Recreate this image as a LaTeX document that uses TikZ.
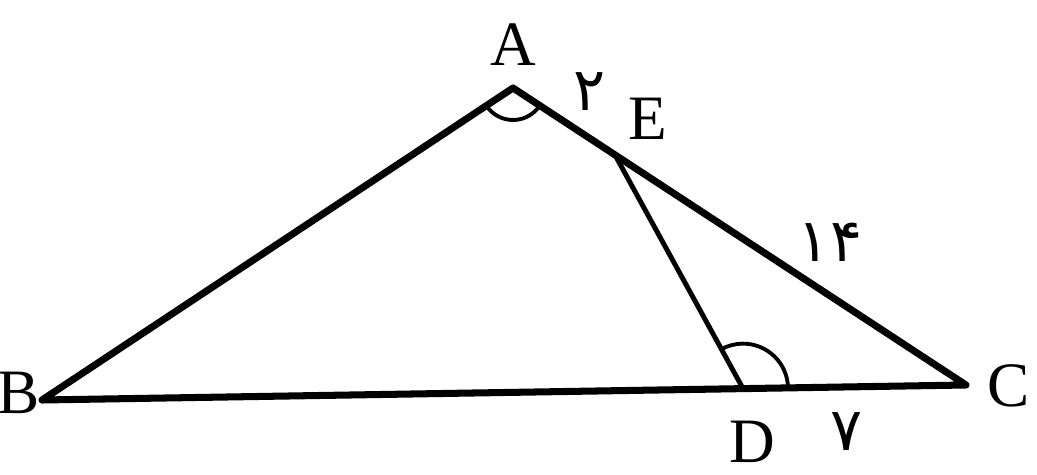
\documentclass[tikz,border=0pt]{standalone}
\usepackage{fontspec}
\setmainfont{Liberation Serif}
\newfontfamily\farsifont[Script=Arabic]{DejaVu Sans}
\usetikzlibrary{calc,angles}
\begin{document}
\begin{tikzpicture}[x=0.02cm,y=0.02cm,
  tri/.style={line width=4pt,line join=round,line cap=round},
  seg/.style={line width=2.8pt,line cap=round},
  ang/.style={draw,line width=2.2pt},
  lab/.style={inner sep=0pt,font=\fontsize{36}{40}\selectfont},
  num/.style={inner sep=0pt,font=\farsifont\fontsize{34}{40}\selectfont}]
\useasboundingbox (0,0) rectangle (1037,474);
\coordinate (A) at (513,386);
\coordinate (B) at (42,74);
\coordinate (C) at (966,89);
\coordinate (D) at ($(B)!0.7587!(C)$);
\coordinate (E) at ($(A)!0.225!(C)$);
\draw[tri] (A) -- (B) -- (C) -- cycle;
\draw[seg] (E) -- (D);
\pic[ang,angle radius=0.64cm] {angle = B--A--C};
\pic[ang,angle radius=0.9cm] {angle = C--D--E};
\node[lab] (lA) at (513,429) {A};
\node[lab] (lE) at (648,355) {E};
\node[lab] (lB) at (19,81) {B};
\node[lab] (lC) at (1009,88) {C};
\node[lab] (lD) at (752,32) {D};
\node[num] (n2) at (590,382) {۲};
\node[num] (n14) at (830,232) {۱۴};
\node[num] (n7) at (847,42) {۷};
\end{tikzpicture}
\end{document}
